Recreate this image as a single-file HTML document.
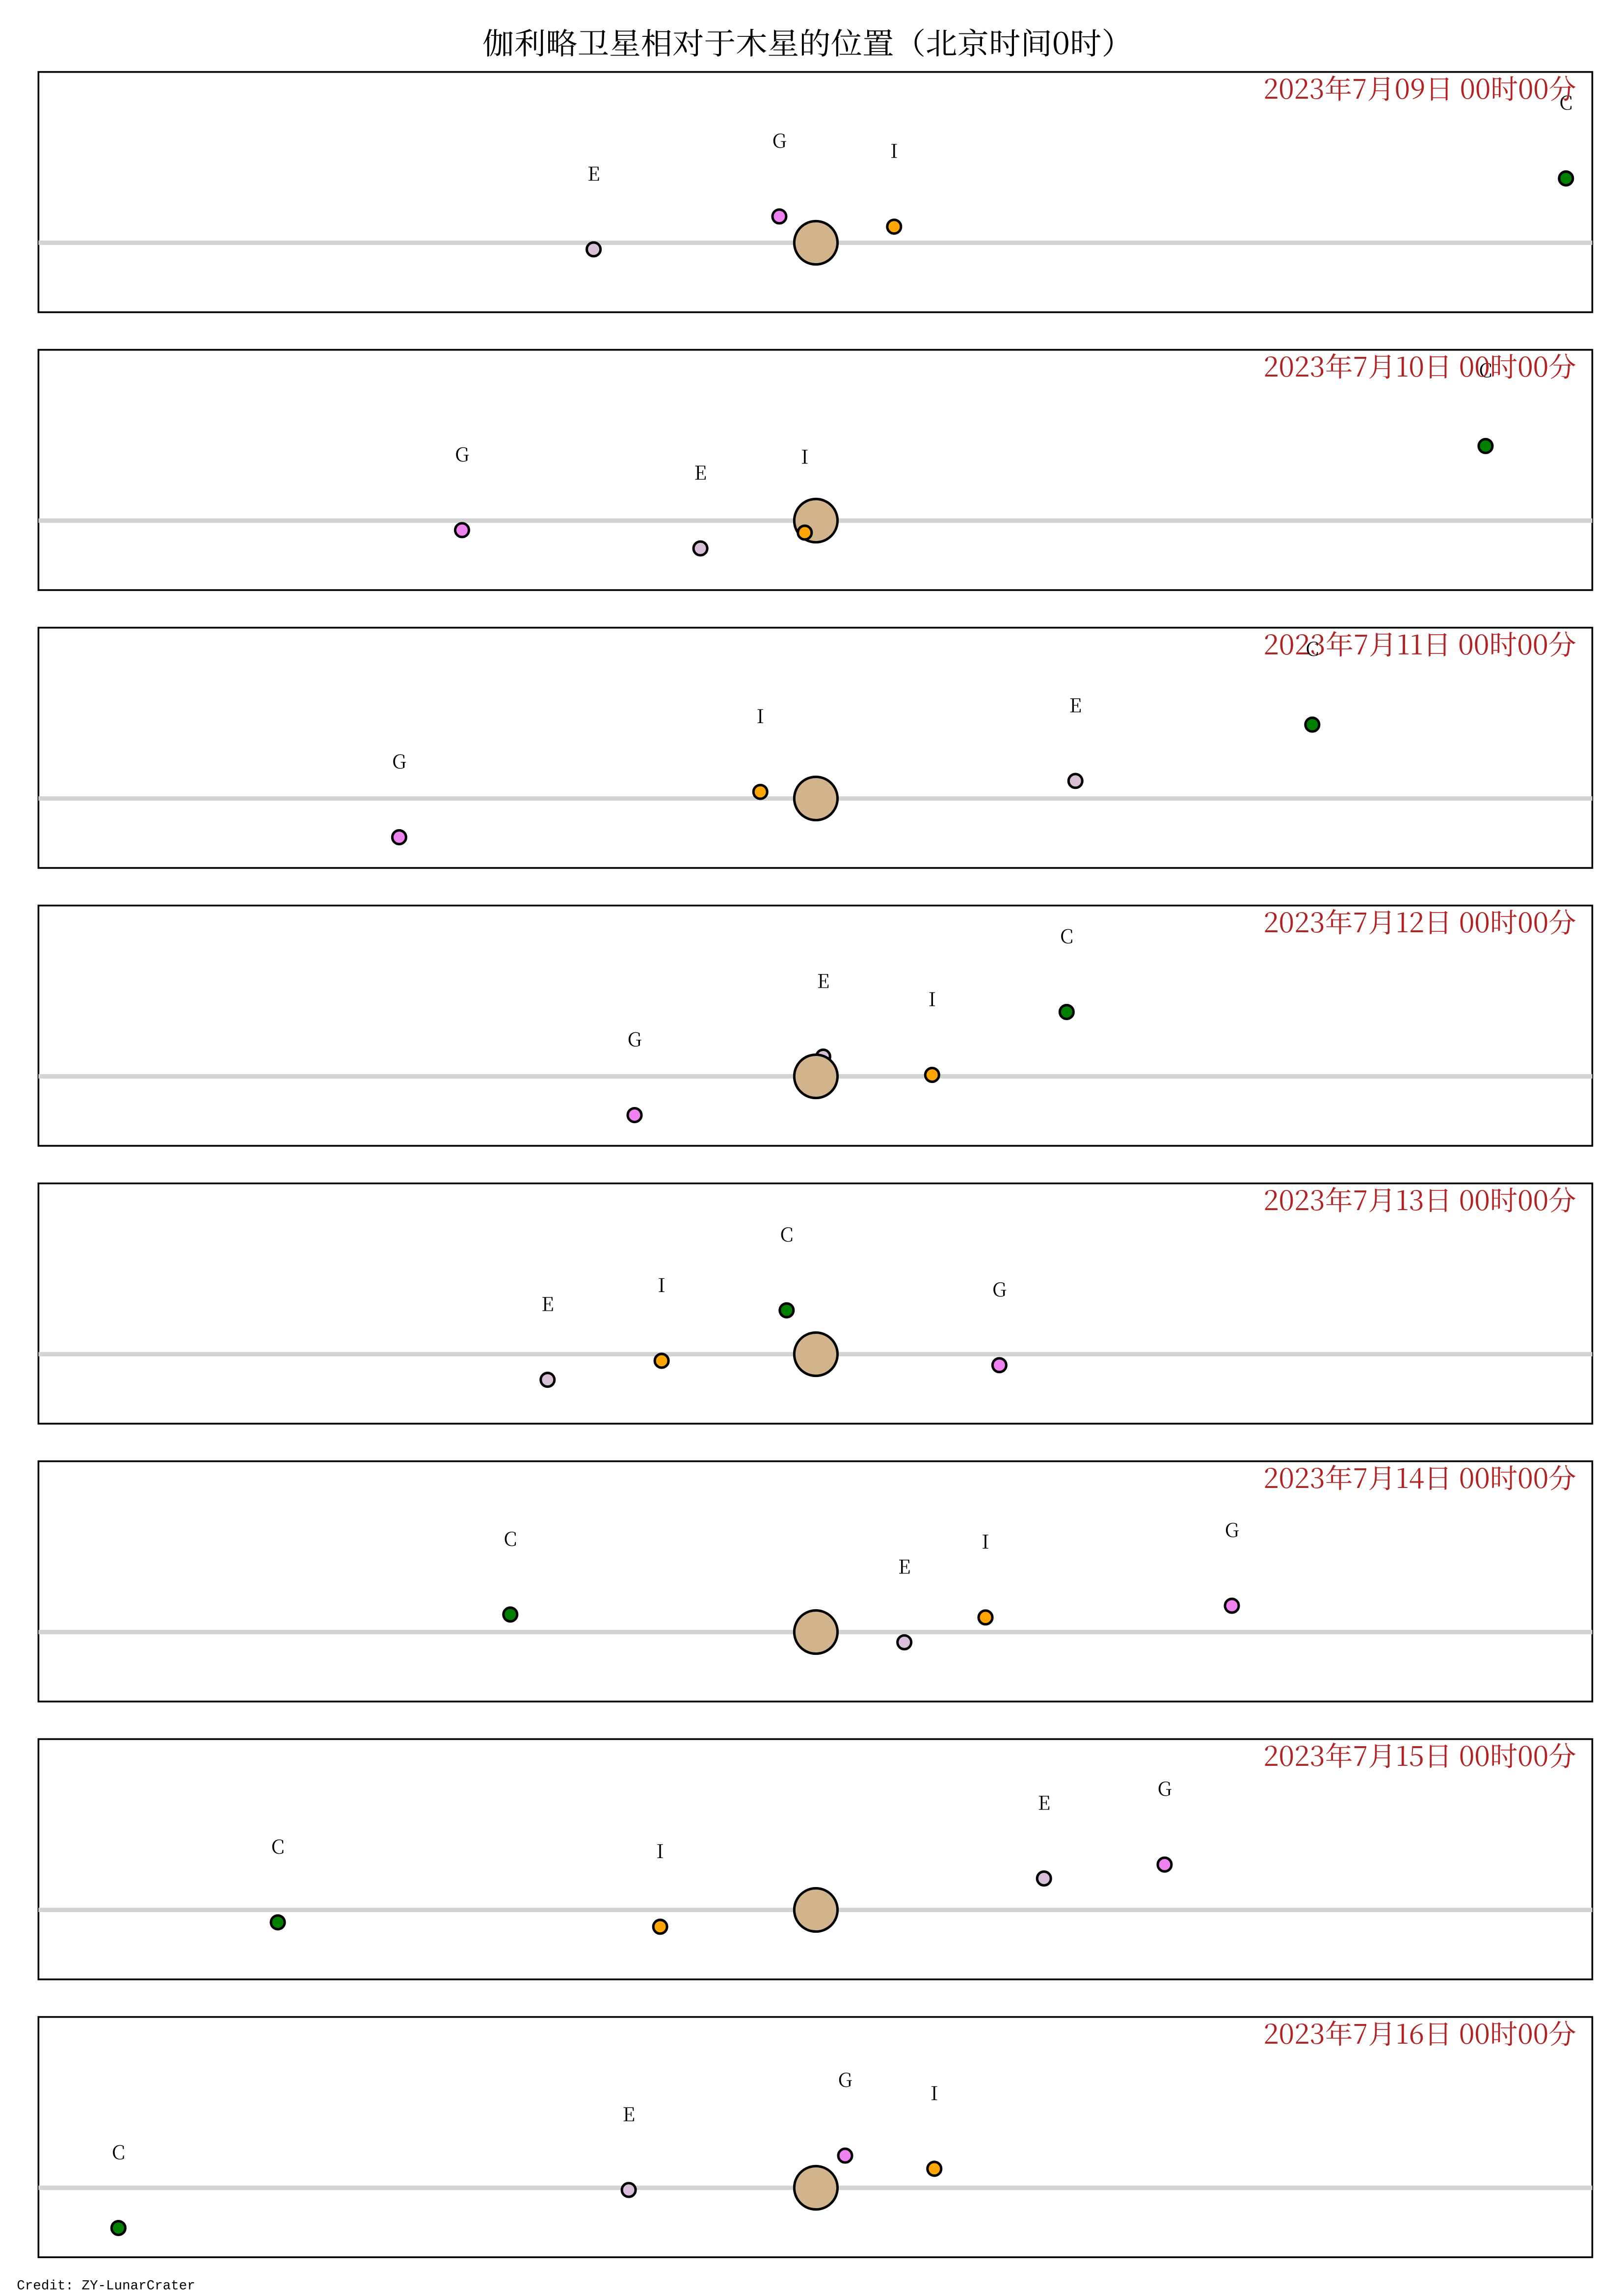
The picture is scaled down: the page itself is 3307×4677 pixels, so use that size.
<!DOCTYPE html>
<html><head><meta charset="utf-8"><style>html,body{margin:0;padding:0;background:#fff}svg{display:block}</style></head>
<body>
<svg xmlns="http://www.w3.org/2000/svg" width="3307" height="4677" viewBox="0 0 1110 1570" preserveAspectRatio="none">
<defs>
<style>
.t{font-family:"Noto Serif CJK SC","Liberation Serif",serif}
.d{font-family:"Noto Serif CJK SC","Liberation Serif",serif;fill:#b22222;font-size:18.5px;text-anchor:end}
.l{font-family:"Noto Serif CJK SC","Liberation Serif",serif;font-size:13px;text-anchor:middle;fill:#000}
.m{stroke:#000;stroke-width:1.7}
.E{fill:#d8bfd8}.G{fill:#ee82ee}.I{fill:#ffa500}.C{fill:#008000}
</style>
</defs>
<rect width="1110" height="1570" fill="#fff"/>
<text class="t" x="552.5" y="37" font-size="20.5" text-anchor="middle" textLength="445" lengthAdjust="spacingAndGlyphs">伽利略卫星相对于木星的位置（北京时间0时）</text>

<!-- Panel 1 -->
<g transform="translate(0,0.5)">
<rect x="26.3" y="48.7" width="1062.7" height="164.3" fill="none" stroke="#000" stroke-width="1.2"/>
<line x1="26.3" x2="1089" y1="165.5" y2="165.5" stroke="#d3d3d3" stroke-width="3"/>
<circle class="m" cx="558" cy="165.5" r="14.8" fill="#d2b48c"/>
<circle class="m E" cx="406" cy="170" r="4.7"/><text class="l" x="406" y="123">E</text>
<circle class="m G" cx="533" cy="147.5" r="4.7"/><text class="l" x="533" y="100.5">G</text>
<circle class="m I" cx="611.5" cy="154.5" r="4.7"/><text class="l" x="611.5" y="107.5">I</text>
<circle class="m C" cx="1071" cy="121.5" r="4.7"/><text class="l" x="1071" y="74.5">C</text>
<text class="d" x="1078" y="67" textLength="214" lengthAdjust="spacingAndGlyphs">2023年7月09日 00时00分</text>
</g>

<!-- Panel 2 -->
<g transform="translate(0,190.5)">
<rect x="26.3" y="48.7" width="1062.7" height="164.3" fill="none" stroke="#000" stroke-width="1.2"/>
<line x1="26.3" x2="1089" y1="165.5" y2="165.5" stroke="#d3d3d3" stroke-width="3"/>
<circle class="m" cx="558" cy="165.5" r="14.8" fill="#d2b48c"/>
<circle class="m G" cx="316" cy="172" r="4.7"/><text class="l" x="316" y="125">G</text>
<circle class="m E" cx="479" cy="184.5" r="4.7"/><text class="l" x="479" y="137.5">E</text>
<circle class="m I" cx="550.4" cy="173.7" r="4.7"/><text class="l" x="550.4" y="126.5">I</text>
<circle class="m C" cx="1016" cy="114.5" r="4.7"/><text class="l" x="1016" y="67.5">C</text>
<text class="d" x="1078" y="67" textLength="214" lengthAdjust="spacingAndGlyphs">2023年7月10日 00时00分</text>
</g>

<!-- Panel 3 -->
<g transform="translate(0,380.5)">
<rect x="26.3" y="48.7" width="1062.7" height="164.3" fill="none" stroke="#000" stroke-width="1.2"/>
<line x1="26.3" x2="1089" y1="165.5" y2="165.5" stroke="#d3d3d3" stroke-width="3"/>
<circle class="m" cx="558" cy="165.5" r="14.8" fill="#d2b48c"/>
<circle class="m G" cx="273" cy="192" r="4.7"/><text class="l" x="273" y="145">G</text>
<circle class="m I" cx="520" cy="161" r="4.7"/><text class="l" x="520" y="114">I</text>
<circle class="m E" cx="735.5" cy="153.5" r="4.7"/><text class="l" x="735.5" y="106.5">E</text>
<circle class="m C" cx="897.5" cy="115" r="4.7"/>
<text class="d" x="1078" y="67" textLength="214" lengthAdjust="spacingAndGlyphs">2023年7月11日 00时00分</text>
<text class="l" x="897.5" y="68">C</text>
</g>

<!-- Panel 4 -->
<g transform="translate(0,570.5)">
<rect x="26.3" y="48.7" width="1062.7" height="164.3" fill="none" stroke="#000" stroke-width="1.2"/>
<line x1="26.3" x2="1089" y1="165.5" y2="165.5" stroke="#d3d3d3" stroke-width="3"/>
<circle class="m E" cx="563" cy="152" r="4.7"/><text class="l" x="563" y="105">E</text>
<circle class="m" cx="558" cy="165.5" r="14.8" fill="#d2b48c"/>
<circle class="m G" cx="434" cy="192" r="4.7"/><text class="l" x="434" y="145">G</text>
<circle class="m I" cx="637.5" cy="164.5" r="4.7"/><text class="l" x="637.5" y="117.5">I</text>
<circle class="m C" cx="729.5" cy="121.5" r="4.7"/><text class="l" x="729.5" y="74.5">C</text>
<text class="d" x="1078" y="67" textLength="214" lengthAdjust="spacingAndGlyphs">2023年7月12日 00时00分</text>
</g>

<!-- Panel 5 -->
<g transform="translate(0,760.5)">
<rect x="26.3" y="48.7" width="1062.7" height="164.3" fill="none" stroke="#000" stroke-width="1.2"/>
<line x1="26.3" x2="1089" y1="165.5" y2="165.5" stroke="#d3d3d3" stroke-width="3"/>
<circle class="m" cx="558" cy="165.5" r="14.8" fill="#d2b48c"/>
<circle class="m E" cx="374.5" cy="183" r="4.7"/><text class="l" x="374.5" y="136">E</text>
<circle class="m I" cx="452.5" cy="170" r="4.7"/><text class="l" x="452.5" y="123">I</text>
<circle class="m C" cx="538" cy="135.5" r="4.7"/><text class="l" x="538" y="88.5">C</text>
<circle class="m G" cx="683.5" cy="173" r="4.7"/><text class="l" x="683.5" y="126">G</text>
<text class="d" x="1078" y="67" textLength="214" lengthAdjust="spacingAndGlyphs">2023年7月13日 00时00分</text>
</g>

<!-- Panel 6 -->
<g transform="translate(0,950.5)">
<rect x="26.3" y="48.7" width="1062.7" height="164.3" fill="none" stroke="#000" stroke-width="1.2"/>
<line x1="26.3" x2="1089" y1="165.5" y2="165.5" stroke="#d3d3d3" stroke-width="3"/>
<circle class="m" cx="558" cy="165.5" r="14.8" fill="#d2b48c"/>
<circle class="m C" cx="349" cy="153.5" r="4.7"/><text class="l" x="349" y="106.5">C</text>
<circle class="m E" cx="618.5" cy="172.5" r="4.7"/><text class="l" x="618.5" y="125.5">E</text>
<circle class="m I" cx="674" cy="155.5" r="4.7"/><text class="l" x="674" y="108.5">I</text>
<circle class="m G" cx="842.5" cy="147.5" r="4.7"/><text class="l" x="842.5" y="100.5">G</text>
<text class="d" x="1078" y="67" textLength="214" lengthAdjust="spacingAndGlyphs">2023年7月14日 00时00分</text>
</g>

<!-- Panel 7 -->
<g transform="translate(0,1140.5)">
<rect x="26.3" y="48.7" width="1062.7" height="164.3" fill="none" stroke="#000" stroke-width="1.2"/>
<line x1="26.3" x2="1089" y1="165.5" y2="165.5" stroke="#d3d3d3" stroke-width="3"/>
<circle class="m" cx="558" cy="165.5" r="14.8" fill="#d2b48c"/>
<circle class="m C" cx="190" cy="174" r="4.7"/><text class="l" x="190" y="127">C</text>
<circle class="m I" cx="451.5" cy="177" r="4.7"/><text class="l" x="451.5" y="130">I</text>
<circle class="m E" cx="714" cy="144" r="4.7"/><text class="l" x="714" y="97">E</text>
<circle class="m G" cx="796.5" cy="134.5" r="4.7"/><text class="l" x="796.5" y="87.5">G</text>
<text class="d" x="1078" y="67" textLength="214" lengthAdjust="spacingAndGlyphs">2023年7月15日 00时00分</text>
</g>

<!-- Panel 8 -->
<g transform="translate(0,1330.5)">
<rect x="26.3" y="48.7" width="1062.7" height="164.3" fill="none" stroke="#000" stroke-width="1.2"/>
<line x1="26.3" x2="1089" y1="165.5" y2="165.5" stroke="#d3d3d3" stroke-width="3"/>
<circle class="m" cx="558" cy="165.5" r="14.8" fill="#d2b48c"/>
<circle class="m C" cx="81" cy="193" r="4.7"/><text class="l" x="81" y="146">C</text>
<circle class="m E" cx="430" cy="167" r="4.7"/><text class="l" x="430" y="120">E</text>
<circle class="m G" cx="578" cy="143.5" r="4.7"/><text class="l" x="578" y="96.5">G</text>
<circle class="m I" cx="639" cy="152.5" r="4.7"/><text class="l" x="639" y="105.5">I</text>
<text class="d" x="1078" y="67" textLength="214" lengthAdjust="spacingAndGlyphs">2023年7月16日 00时00分</text>
</g>

<text x="11.5" y="1565.5" font-family="Liberation Mono, monospace" font-size="9.3" fill="#000" textLength="122" lengthAdjust="spacingAndGlyphs">Credit: ZY-LunarCrater</text>
</svg>
</body></html>
